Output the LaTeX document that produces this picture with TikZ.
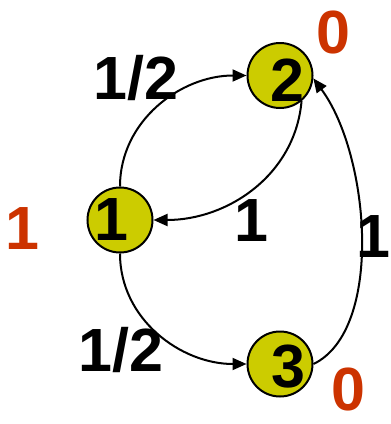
\documentclass[tikz,border=0pt]{standalone}
\usepackage{fontspec}
\setmainfont{Liberation Sans}
\usetikzlibrary{arrows.meta}
\definecolor{nodefill}{HTML}{CCCC00}
\definecolor{valred}{HTML}{CC3300}
\tikzset{
  state/.style={circle, draw=black, line width=2pt, fill=nodefill, minimum size=65pt, inner sep=0pt},
  big/.style={inner sep=0pt, font=\fontsize{61}{61}\selectfont\bfseries},
  val/.style={big, text=valred},
  edge/.style={line width=2pt, -{Triangle[length=14pt,width=12pt]}}
}
\begin{document}
\begin{tikzpicture}[x=1pt,y=-1pt]
\useasboundingbox (0,0) rectangle (391,424);
\node[state] (n1) at (120,220) {};
\node[state] (n2) at (280,75.5) {};
\node[state] (n3) at (280,364) {};
\node[big] (t1) at (111,220) {1};
\node[big] (t2) at (287,80) {2};
\node[big] (t3) at (288,367) {3};
\draw[edge] (n1.north) to[out=90,in=180] (n2.west);
\draw[edge] (n2.-50) to[out=-95,in=0] (n1.east);
\draw[edge] (n1.south) to[out=-90,in=180] (n3.west);
\draw[edge] (n3.east) .. controls (384,330) and (370,155) .. (n2.-5);
\node[big] (l12) at (136,78) {1/2};
\node[big] (l13) at (121,350) {1/2};
\node[big] (l21) at (251,221) {1};
\node[big] (l32) at (373,237) {1};
\node[val] (v1) at (22,229) {1};
\node[val] (v2) at (333,32) {0};
\node[val] (v3) at (348,389) {0};
\end{tikzpicture}
\end{document}
